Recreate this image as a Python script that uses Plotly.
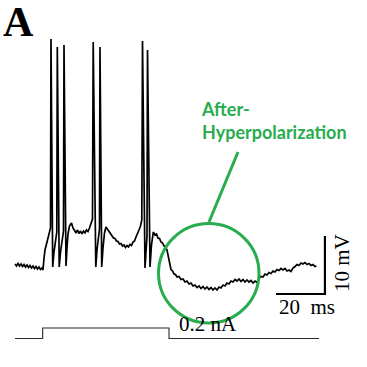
import plotly.graph_objects as go

# Membrane potential trace (time in ms, voltage in mV relative to rest)
time_ms = [0.0, 0.61, 1.22, 1.84, 2.45, 3.06, 3.67, 4.29, 4.90, 5.51, 6.12, 6.73, 7.35, 7.96, 8.57, 9.18, 9.80, 10.41, 11.02, 11.43,
           11.84, 12.24, 12.86, 13.47, 14.08, 14.49, 14.69, 15.39, 15.92, 16.53, 17.06, 17.27, 18.04, 18.57, 19.18, 19.80, 20.0, 20.82,
           21.22, 21.63, 22.24, 23.06, 23.67, 24.29, 24.90, 25.51, 26.12, 26.73, 27.35, 27.96, 28.57, 29.18, 29.80, 30.41, 31.02, 31.63,
           31.92, 32.98, 33.47, 34.0, 34.49, 34.69, 35.39, 35.92, 36.53, 37.14, 37.76, 38.37, 38.98, 39.59, 40.20, 40.82, 41.43, 42.04,
           42.65, 43.27, 43.88, 44.49, 45.10, 45.71, 46.33, 46.94, 47.55, 48.16, 48.78, 49.39, 50.0, 50.61, 51.22, 51.76,
           52.04, 53.06, 53.47, 53.88, 54.08, 55.10, 55.71, 56.45, 57.14, 57.76, 58.37, 58.98, 59.59, 60.20, 60.82, 61.43, 62.04, 62.45,
           62.86, 63.27, 63.67, 64.29, 64.90, 65.51, 66.12, 66.94, 67.76, 68.57, 69.39, 70.20, 71.02, 71.84, 72.65, 73.47, 74.29, 75.10,
           75.92, 76.73, 77.55, 78.37, 79.18, 80.0, 80.82, 81.63, 82.45, 83.27, 84.08, 84.90, 85.71, 86.53, 87.35, 88.16, 88.98, 89.80,
           90.61, 91.43, 92.24, 93.06, 93.88, 94.69, 95.51, 96.33, 97.14, 97.96, 98.78, 99.59, 100.41, 101.22, 102.04, 102.86, 103.67,
           104.49, 105.31, 106.12, 106.94, 107.76, 108.57, 109.39, 110.20, 111.02, 111.84, 112.65, 113.47, 114.29, 115.10, 115.92,
           116.73, 117.55, 118.37, 119.18, 120.0, 120.82, 121.63, 122.45, 123.06]
voltage_mV = [0.34, 0.0, 0.43, 0.0, 0.34, -0.09, 0.26, -0.17, 0.17, -0.26, 0.09, -0.34, 0.0, -0.43, -0.09, -0.52, -0.17, -0.60, -0.34, -0.69,
              1.38, 2.76, 3.79, 4.83, 5.86, 6.55, 39.14, -0.17, 2.41, 4.48, 5.86, 37.76, -0.17, 2.41, 4.48, 6.03, 38.10, 0.0,
              3.10, 5.52, 6.90, 7.41, 6.55, 6.21, 5.69, 6.21, 5.60, 6.03, 5.52, 6.03, 5.69, 6.21, 5.95, 6.55, 7.24, 8.10,
              38.62, -0.17, 2.76, 5.17, 6.38, 37.76, -0.17, 3.10, 5.69, 6.72, 6.38, 6.03, 5.52, 5.34, 4.83, 4.74, 4.31, 4.22,
              3.79, 3.88, 3.45, 3.62, 3.19, 3.53, 3.28, 3.71, 3.53, 4.14, 4.31, 5.0, 5.52, 6.21, 6.90, 7.93,
              38.79, -0.34, 2.41, 5.17, 37.24, -0.17, 3.62, 5.86, 5.34, 5.52, 4.83, 4.74, 4.14, 3.97, 3.45, 3.28, 2.76, 1.90,
              1.03, 0.0, -0.60, -0.86, -1.38, -1.47, -1.90, -1.81, -2.33, -2.24, -2.76, -2.59, -3.10, -2.93, -3.45, -3.28, -3.71, -3.45,
              -3.88, -3.53, -3.97, -3.62, -4.05, -3.71, -4.14, -3.79, -4.14, -3.62, -3.79, -3.28, -3.45, -2.93, -3.10, -2.59, -2.76, -2.33,
              -2.59, -2.24, -2.67, -2.33, -2.76, -2.41, -2.76, -2.50, -2.93, -2.59, -2.84, -2.07, -1.81, -1.90, -1.38, -1.55, -1.12,
              -1.29, -0.86, -1.03, -0.60, -0.78, -0.43, -0.69, -0.43, -0.86, -0.69, -0.95, -0.34, -0.09, 0.26, 0.09,
              0.52, 0.34, 0.60, 0.26, 0.43, 0.09, 0.26, -0.09, 0.0]

# Injected current step (time in ms, current in nA)
current_time_ms = [0.0, 11.3, 11.3, 62.86, 62.86, 124.1]
current_nA = [0.0, 0.0, 0.2, 0.2, 0.0, 0.0]

# Scale bars
scale_time_ms = 20
scale_voltage_mV = 10
scale_origin_t = 106.5
scale_origin_v = -4.83

GREEN = "rgb(40,172,78)"
W = H = 367

fig = go.Figure()
fig.add_trace(go.Scatter(x=time_ms, y=voltage_mV, mode="lines",
                         line=dict(color="black", width=1.7), hoverinfo="skip"))
fig.add_trace(go.Scatter(x=current_time_ms, y=current_nA, mode="lines", yaxis="y2",
                         line=dict(color="rgb(40,40,40)", width=1.1), hoverinfo="skip"))
fig.add_trace(go.Scatter(
    x=[scale_origin_t, scale_origin_t + scale_time_ms, scale_origin_t + scale_time_ms],
    y=[scale_origin_v, scale_origin_v, scale_origin_v + scale_voltage_mV],
    mode="lines", line=dict(color="black", width=2.2), hoverinfo="skip"))

def px(xp):
    return xp / W

def py(yp):
    return 1 - yp / H

shapes = [
    dict(type="circle", xref="paper", yref="paper",
         x0=px(158.5), x1=px(259), y0=py(323), y1=py(223.5),
         line=dict(color=GREEN, width=3), layer="above"),
    dict(type="line", xref="paper", yref="paper",
         x0=px(238), y0=py(152), x1=px(209), y1=py(222),
         line=dict(color=GREEN, width=3)),
]

annotations = [
    dict(text="<b>A</b>", xref="paper", yref="paper", x=px(18), y=py(22),
         xanchor="center", yanchor="middle",
         showarrow=False, font=dict(family="Liberation Serif", size=42, color="black")),
    dict(text="<b>After-<br>Hyperpolarization</b>", xref="paper", yref="paper",
         x=px(199), y=py(120.5), xanchor="left", yanchor="middle", align="left", showarrow=False,
         font=dict(family="Lato", size=18, color=GREEN)),
    dict(text="20\u00a0\u00a0ms", xref="paper", yref="paper", x=px(306.5), y=py(307),
         xanchor="center", yanchor="middle",
         showarrow=False, font=dict(family="Liberation Serif", size=21, color="black")),
    dict(text="10 mV", xref="paper", yref="paper", x=px(342), y=py(263), textangle=-90,
         xanchor="center", yanchor="middle",
         showarrow=False, font=dict(family="Liberation Serif", size=21, color="black")),
    dict(text="0.2 nA", xref="paper", yref="paper", x=px(208), y=py(324),
         xanchor="center", yanchor="middle",
         showarrow=False, font=dict(family="Liberation Serif", size=21, color="black")),
]

x_per_ms = 2.45
y_per_mV = 5.8
x0_px = 15
rest_px = 266
i0_px = 338.5
y_per_nA = 52.5

fig.update_layout(
    width=W, height=H, margin=dict(l=0, r=0, t=0, b=0),
    paper_bgcolor="white", plot_bgcolor="white", showlegend=False,
    xaxis=dict(range=[-x0_px / x_per_ms, (W - x0_px) / x_per_ms], visible=False, fixedrange=True),
    yaxis=dict(range=[(rest_px - H) / y_per_mV, rest_px / y_per_mV], visible=False, fixedrange=True),
    yaxis2=dict(range=[(i0_px - H) / y_per_nA, i0_px / y_per_nA], overlaying="y", visible=False, fixedrange=True),
    shapes=shapes, annotations=annotations,
)

fig.write_html("out.html")
